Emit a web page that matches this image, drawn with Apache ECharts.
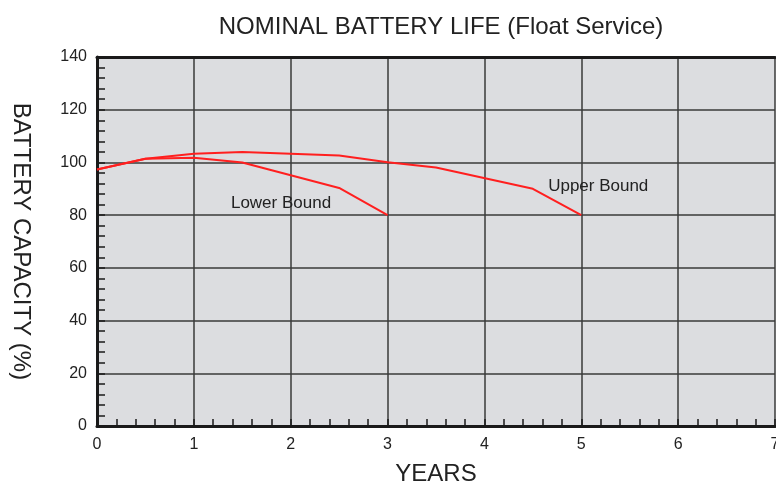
<!DOCTYPE html>
<html>
<head>
    <meta charset="utf-8">
    <title>Battery life</title>
    <script src="https://cdn.jsdelivr.net/npm/echarts@6/dist/echarts.min.js"></script>
    <style>
        html, body { margin: 0; padding: 0; background: #fff; }
        #main { width: 776px; height: 485px; }
    </style>
</head>
<body>
<div id="main"></div>
<script type="text/javascript">
    // years / capacity (%)
    var upperYears = [0, 0.5, 1, 1.5, 2.5, 3, 3.5, 4.5, 5];
    var upperCap   = [97.3, 101.4, 103.3, 104, 102.6, 100.1, 98.1, 90, 80];
    var lowerYears = [0, 0.5, 1, 1.5, 2.5, 3];
    var lowerCap   = [97.3, 101.4, 101.8, 100, 90.3, 80];

    var xTicks = [0, 1, 2, 3, 4, 5, 6, 7];
    var yTicks = [0, 20, 40, 60, 80, 100, 120, 140];

    var upperData = upperYears.map((t, i) => [t, upperCap[i]]);
    var lowerData = lowerYears.map((t, i) => [t, lowerCap[i]]);

    var font = 'Liberation Sans, Arial, Helvetica, sans-serif';
    var lineColor = '#ff1f1f';

    var myChart = echarts.init(document.getElementById('main'));

    var option = {
        animation: false,
        title: {
            text: 'NOMINAL BATTERY LIFE (Float Service)',
            left: 436,
            textAlign: 'center',
            top: 10,
            textStyle: { fontFamily: font, fontSize: 24, fontWeight: 'normal', color: '#222' }
        },
        grid: {
            left: 97, top: 57, right: 1, bottom: 59,
            outerBoundsMode: 'none',
            containLabel: false,
            show: true,
            backgroundColor: '#dcdde0',
            borderWidth: 0
        },
        xAxis: [
            {
                type: 'value',
                min: xTicks[0],
                max: xTicks[xTicks.length - 1],
                interval: 1,
                name: 'YEARS',
                nameLocation: 'middle',
                nameGap: 36,
                nameTextStyle: { fontFamily: font, fontSize: 24, color: '#222' },
                axisLine: { show: true, lineStyle: { color: '#1a1a1a', width: 3 } },
                axisTick: { show: true, inside: true, length: 7, lineStyle: { color: '#1a1a1a', width: 1.5 } },
                minorTick: { show: true, splitNumber: 5, length: 7, lineStyle: { color: '#1a1a1a', width: 1.5 } },
                axisLabel: { fontFamily: font, fontSize: 16, color: '#222', margin: 11 },
                splitLine: { show: true, lineStyle: { color: '#3a3a3a', width: 1.5 } }
            },
            {
                // top border of the plot
                type: 'value',
                position: 'top',
                min: xTicks[0],
                max: xTicks[xTicks.length - 1],
                axisLine: { show: true, lineStyle: { color: '#1a1a1a', width: 3 } },
                axisTick: { show: false },
                axisLabel: { show: false },
                splitLine: { show: false }
            }
        ],
        yAxis: {
            type: 'value',
            min: yTicks[0],
            max: yTicks[yTicks.length - 1],
            interval: 20,
            name: 'BATTERY CAPACITY (%)',
            nameLocation: 'middle',
            nameRotate: -90,
            nameGap: 64,
            nameTextStyle: { fontFamily: font, fontSize: 24, color: '#222' },
            axisLine: { show: true, lineStyle: { color: '#1a1a1a', width: 3 } },
            axisTick: { show: true, inside: true, length: 8, lineStyle: { color: '#1a1a1a', width: 1.5 } },
            minorTick: { show: true, splitNumber: 5, length: 8, lineStyle: { color: '#1a1a1a', width: 1.5 } },
            axisLabel: { fontFamily: font, fontSize: 16, color: '#222', margin: 10 },
            splitLine: { show: true, lineStyle: { color: '#3a3a3a', width: 1.5 } }
        },
        series: [
            {
                name: 'Upper Bound',
                type: 'line',
                data: upperData,
                symbol: 'none',
                lineStyle: { color: lineColor, width: 2 },
                markPoint: {
                    symbol: 'circle',
                    symbolSize: 0,
                    label: { show: true, position: 'inside', formatter: '{b}', fontFamily: font, fontSize: 17, color: '#222' },
                    data: [{ name: 'Upper Bound', coord: [5.175, 91] }]
                }
            },
            {
                name: 'Lower Bound',
                type: 'line',
                data: lowerData,
                symbol: 'none',
                lineStyle: { color: lineColor, width: 2 },
                markPoint: {
                    symbol: 'circle',
                    symbolSize: 0,
                    label: { show: true, position: 'inside', formatter: '{b}', fontFamily: font, fontSize: 17, color: '#222' },
                    data: [{ name: 'Lower Bound', coord: [1.9, 84.6] }]
                }
            }
        ]
    };

    myChart.setOption(option);
</script>
</body>
</html>
